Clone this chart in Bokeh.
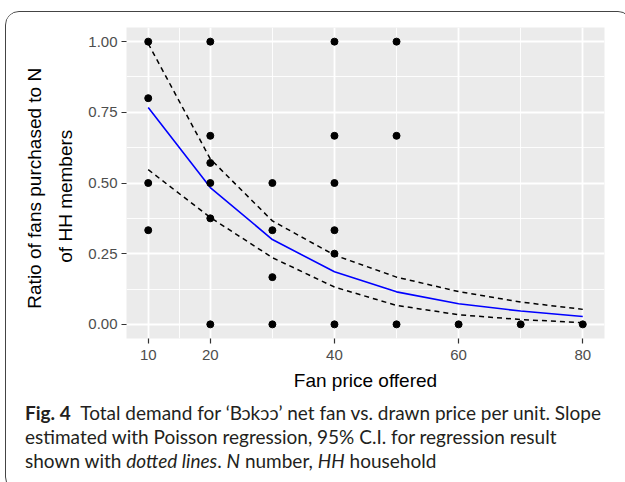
from bokeh.plotting import figure
from bokeh.models import FixedTicker, NumeralTickFormatter, Div
from bokeh.layouts import column
from bokeh.embed import file_html
from bokeh.resources import INLINE

# ---- data ----
price_points = [10, 10, 10, 10,
                20, 20, 20, 20, 20, 20,
                30, 30, 30, 30,
                40, 40, 40, 40, 40, 40,
                50, 50, 50,
                60, 70, 80]
ratio_points = [1.0, 0.8, 0.5, 0.333,
                1.0, 0.667, 0.571, 0.5, 0.375, 0.0,
                0.5, 0.333, 0.167, 0.0,
                1.0, 0.667, 0.5, 0.333, 0.25, 0.0,
                1.0, 0.667, 0.0,
                0.0, 0.0, 0.0]

fit_price = [10, 20, 30, 40, 50, 60, 70, 80]
fit_ratio = [0.767, 0.484, 0.300, 0.186, 0.115, 0.073, 0.047, 0.028]
ci_upper = [0.993, 0.585, 0.366, 0.245, 0.167, 0.116, 0.079, 0.053]
ci_lower = [0.547, 0.378, 0.236, 0.132, 0.067, 0.034, 0.017, 0.006]

x_ticks = [10, 20, 40, 60, 80]
x_minor = [15, 30, 50, 70]
y_ticks = [0.0, 0.25, 0.5, 0.75, 1.0]
y_minor = [0.125, 0.375, 0.625, 0.875]

x_title = "Fan price offered"
y_title = "Ratio of fans purchased to N\u00a0\u00a0\nof HH members\u00a0\u00a0\u00a0\u00a0\u00a0"

caption_lines = [
    "<b>Fig. 4</b>&ensp;Total demand for \u2018B\u0254k\u0254\u0254\u2019 net fan vs. drawn price per unit. Slope",
    "estimated with Poisson regression, 95% C.I. for regression result",
    "shown with <i>dotted lines</i>. <i>N</i> number, <i>HH</i> household",
]

# ---- figure ----
p = figure(width=615, height=383, x_range=(6.5, 83.5), y_range=(-0.05, 1.05),
           output_backend="svg", toolbar_location=None,
           min_border_left=120, min_border_right=17,
           min_border_top=15, min_border_bottom=57)
p.background_fill_color = "#EBEBEB"
p.border_fill_color = "white"
p.outline_line_color = None

p.xaxis.ticker = FixedTicker(ticks=x_ticks, minor_ticks=x_minor)
p.yaxis.ticker = FixedTicker(ticks=y_ticks, minor_ticks=y_minor)
p.yaxis.formatter = NumeralTickFormatter(format="0.00")

for ax in (p.xaxis, p.yaxis):
    ax.axis_line_color = None
    ax.major_tick_line_color = "#333333"
    ax.major_tick_line_width = 1.2
    ax.major_tick_out = 5
    ax.major_tick_in = 0
    ax.minor_tick_line_color = None
    ax.major_label_text_font = "Liberation Sans"
    ax.major_label_text_font_size = "15px"
    ax.major_label_text_color = "#4D4D4D"
    ax.axis_label_text_font = "Liberation Sans"
    ax.axis_label_text_font_size = "19px"
    ax.axis_label_text_font_style = "normal"
    ax.axis_label_text_color = "black"

p.xaxis.major_label_standoff = 6
p.yaxis.major_label_standoff = 4
p.xaxis.axis_label = x_title
p.xaxis.axis_label_standoff = 7
p.yaxis.axis_label = y_title
p.yaxis.axis_label_standoff = 9
p.yaxis.axis_label_text_line_height = 1.47

for g in (p.xgrid, p.ygrid):
    g.grid_line_color = "white"
    g.grid_line_width = 1.8
    g.minor_grid_line_color = "white"
    g.minor_grid_line_width = 0.9

p.line(fit_price, ci_upper, line_color="black", line_width=1.5, line_dash="5 4")
p.line(fit_price, ci_lower, line_color="black", line_width=1.5, line_dash="5 4")
p.line(fit_price, fit_ratio, line_color="#0000FF", line_width=1.6)
p.scatter(price_points, ratio_points, size=7, color="black")

cap = Div(text="<br>".join(caption_lines), width=615, height=85,
          styles={"font-family": "Lato", "font-size": "19px", "line-height": "24px",
                  "color": "#231f20", "padding": "0.5px 0px 0px 14px",
                  "white-space": "nowrap", "box-sizing": "border-box"})

layout = column(p, cap, spacing=0,
                styles={"border": "1px solid #444", "border-radius": "14px",
                        "position": "absolute", "left": "5px", "top": "11px",
                        "background-color": "white", "overflow": "hidden"})

open("out.html", "w").write(file_html(layout, INLINE))
